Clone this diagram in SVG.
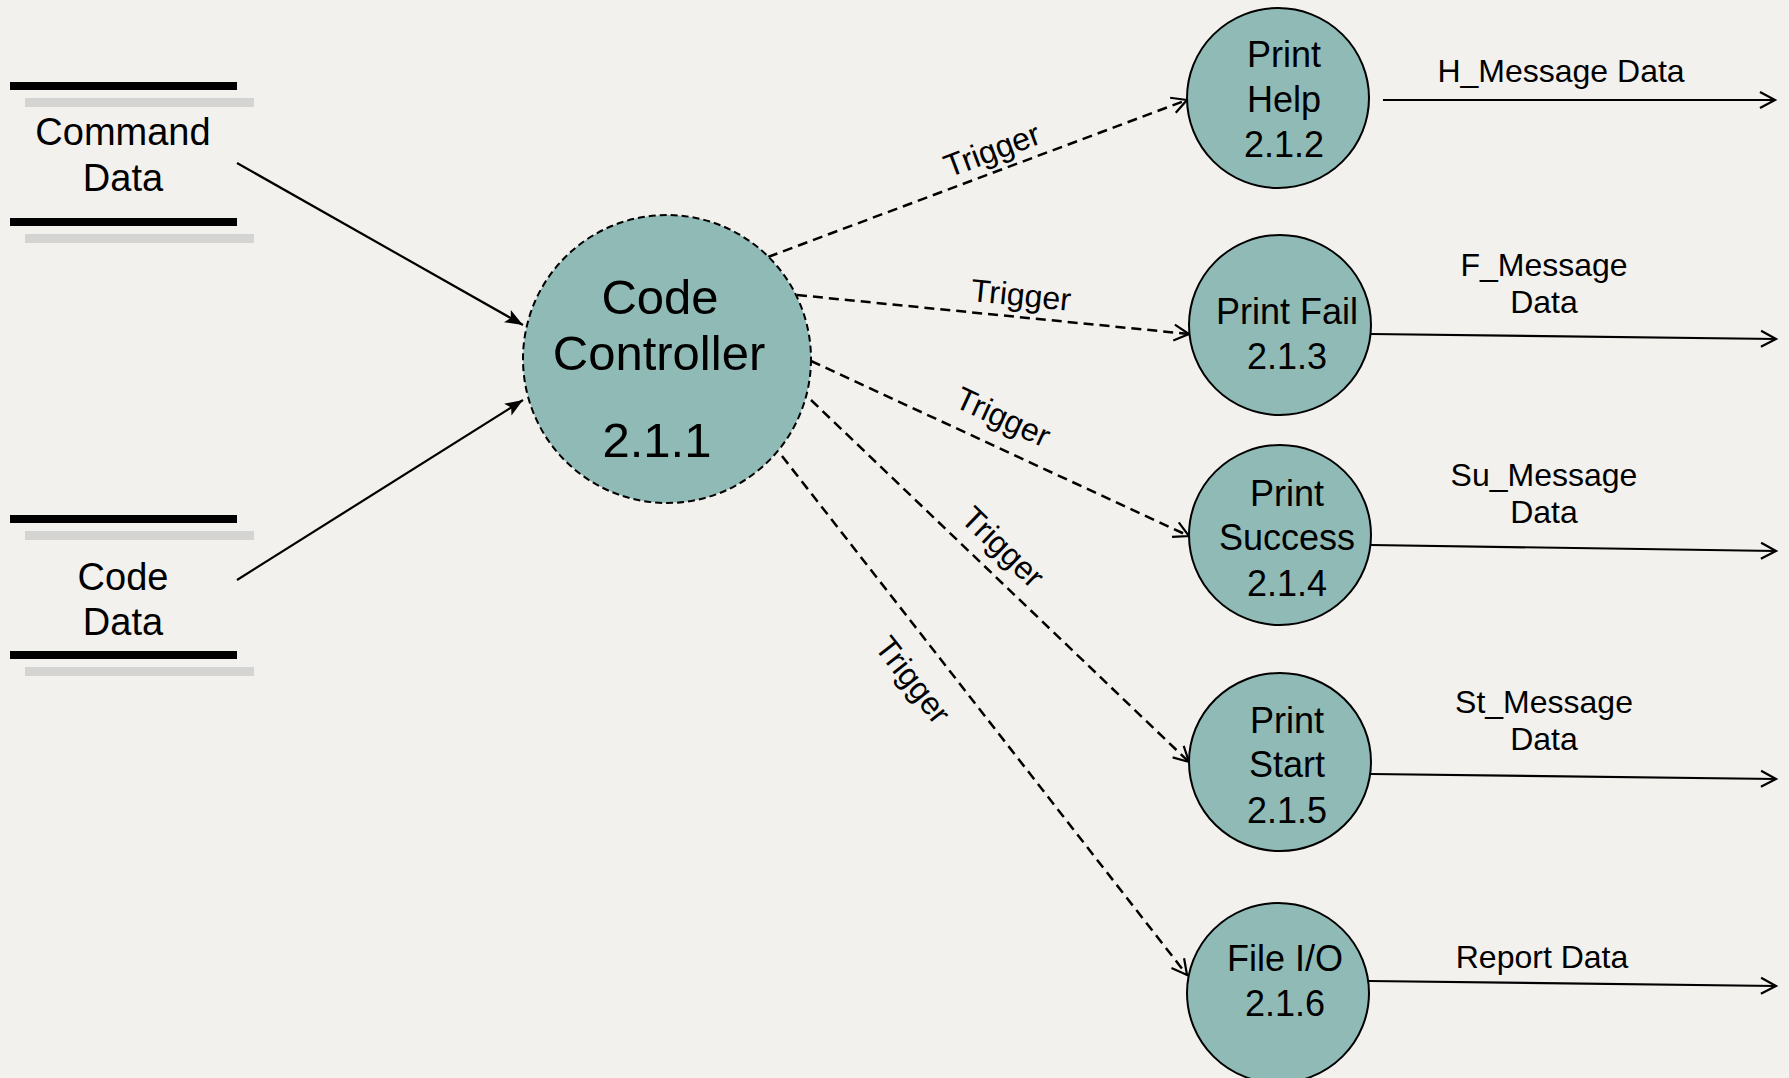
<svg xmlns="http://www.w3.org/2000/svg" width="1789" height="1078" viewBox="0 0 1789 1078">
  <defs>
    <style>
      .bg { fill: #f2f1ed; }
      .bar { fill: #000; }
      .shade { fill: #d4d4d2; }
      .proc { fill: #8fbab5; stroke: #000; stroke-width: 2; }
      .main { fill: #8fbab5; stroke: #000; stroke-width: 2; stroke-dasharray: 7 4; }
      .t { font-family: "Liberation Sans", Arial, sans-serif; fill: #000; text-anchor: middle; }
      .store { font-size: 38px; }
      .big { font-size: 49px; }
      .node { font-size: 36px; }
      .flow { font-size: 32px; }
      .trig { font-size: 32px; dominant-baseline: central; }
      .solid { stroke: #000; stroke-width: 2.2; fill: none; }
      .dash { stroke: #000; stroke-width: 2.5; fill: none; stroke-dasharray: 10 6; }
    </style>
    <marker id="filled" markerUnits="userSpaceOnUse" markerWidth="20" markerHeight="16" refX="18" refY="8" orient="auto">
      <path d="M0,1 L18,8 L0,15 L4,8 z" fill="#000"/>
    </marker>
    <marker id="open" markerUnits="userSpaceOnUse" markerWidth="20" markerHeight="20" refX="16" refY="10" orient="auto">
      <path d="M1,2 L16,10 L1,18" fill="none" stroke="#000" stroke-width="2.2"/>
    </marker>
  </defs>

  <rect class="bg" x="0" y="0" width="1789" height="1078"/>

  <!-- data stores -->
  <g id="store-command-data">
    <rect class="shade" x="25" y="98" width="229" height="9"/>
    <rect class="bar" x="10" y="82" width="227" height="8"/>
    <rect class="shade" x="25" y="234" width="229" height="9"/>
    <rect class="bar" x="10" y="218" width="227" height="8"/>
    <text class="t store" x="123" y="145">Command</text>
    <text class="t store" x="123" y="191">Data</text>
  </g>
  <g id="store-code-data">
    <rect class="shade" x="25" y="531" width="229" height="9"/>
    <rect class="bar" x="10" y="515" width="227" height="8"/>
    <rect class="shade" x="25" y="667" width="229" height="9"/>
    <rect class="bar" x="10" y="651" width="227" height="8"/>
    <text class="t store" x="123" y="590">Code</text>
    <text class="t store" x="123" y="635">Data</text>
  </g>

  <!-- connectors -->
  <g id="connectors">
    <line class="solid" x1="237" y1="163" x2="523" y2="325" marker-end="url(#filled)"/>
    <line class="solid" x1="237" y1="580" x2="523" y2="400" marker-end="url(#filled)"/>

    <line class="dash" x1="768" y1="257" x2="1187" y2="100" marker-end="url(#open)"/>
    <line class="dash" x1="797" y1="295" x2="1189" y2="334" marker-end="url(#open)"/>
    <line class="dash" x1="811" y1="361" x2="1189" y2="536" marker-end="url(#open)"/>
    <line class="dash" x1="811" y1="400" x2="1189" y2="762" marker-end="url(#open)"/>
    <line class="dash" x1="782" y1="456" x2="1187" y2="975" marker-end="url(#open)"/>

    <text class="t trig" transform="rotate(-20.5 992 150)" x="992" y="150">Trigger</text>
    <text class="t trig" transform="rotate(5.7 1021 295)" x="1021" y="295">Trigger</text>
    <text class="t trig" transform="rotate(24.8 1003 417)" x="1003" y="417">Trigger</text>
    <text class="t trig" transform="rotate(43.8 1003 547)" x="1003" y="547">Trigger</text>
    <text class="t trig" transform="rotate(52 913 680)" x="913" y="680">Trigger</text>

    <line class="solid" x1="1383" y1="100" x2="1775" y2="100" marker-end="url(#open)"/>
    <line class="solid" x1="1371" y1="334" x2="1776" y2="339" marker-end="url(#open)"/>
    <line class="solid" x1="1371" y1="545" x2="1776" y2="551" marker-end="url(#open)"/>
    <line class="solid" x1="1371" y1="774" x2="1776" y2="779" marker-end="url(#open)"/>
    <line class="solid" x1="1369" y1="981" x2="1776" y2="986" marker-end="url(#open)"/>

    <text class="t flow" x="1561" y="82">H_Message Data</text>
    <text class="t flow" x="1544" y="276">F_Message</text>
    <text class="t flow" x="1544" y="313">Data</text>
    <text class="t flow" x="1544" y="486">Su_Message</text>
    <text class="t flow" x="1544" y="523">Data</text>
    <text class="t flow" x="1544" y="713">St_Message</text>
    <text class="t flow" x="1544" y="750">Data</text>
    <text class="t flow" x="1542" y="968">Report Data</text>
  </g>

  <!-- processes -->
  <g id="code-controller">
    <circle class="main" cx="667" cy="359" r="144"/>
    <text class="t big" x="660" y="314">Code</text>
    <text class="t big" x="659" y="370">Controller</text>
    <text class="t big" x="657" y="457">2.1.1</text>
  </g>
  <g id="print-help">
    <ellipse class="proc" cx="1278" cy="98" rx="91" ry="90"/>
    <text class="t node" x="1284" y="67">Print</text>
    <text class="t node" x="1284" y="112">Help</text>
    <text class="t node" x="1284" y="157">2.1.2</text>
  </g>
  <g id="print-fail">
    <ellipse class="proc" cx="1280" cy="325" rx="91" ry="90"/>
    <text class="t node" x="1287" y="324">Print Fail</text>
    <text class="t node" x="1287" y="369">2.1.3</text>
  </g>
  <g id="print-success">
    <ellipse class="proc" cx="1280" cy="535" rx="91" ry="90"/>
    <text class="t node" x="1287" y="506">Print</text>
    <text class="t node" x="1287" y="550">Success</text>
    <text class="t node" x="1287" y="596">2.1.4</text>
  </g>
  <g id="print-start">
    <ellipse class="proc" cx="1280" cy="762" rx="91" ry="89"/>
    <text class="t node" x="1287" y="733">Print</text>
    <text class="t node" x="1287" y="777">Start</text>
    <text class="t node" x="1287" y="823">2.1.5</text>
  </g>
  <g id="file-io">
    <ellipse class="proc" cx="1278" cy="993" rx="91" ry="90"/>
    <text class="t node" x="1285" y="971">File I/O</text>
    <text class="t node" x="1285" y="1016">2.1.6</text>
  </g>
</svg>
